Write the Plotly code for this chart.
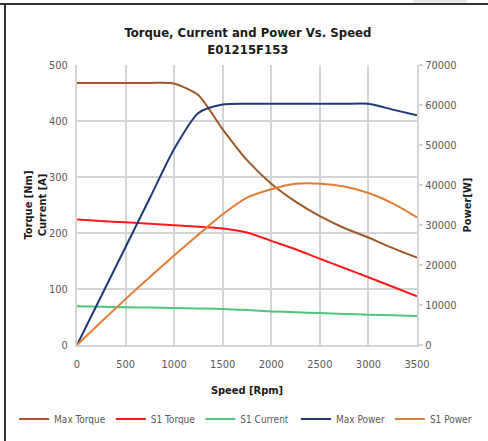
import plotly.graph_objects as go

speed = [0, 250, 500, 750, 1000, 1250, 1500, 1750, 2000, 2250, 2500, 2750, 3000, 3250, 3500]
max_torque = [468, 468, 468, 468, 467, 446, 385, 330, 288, 256, 230, 209, 192, 173, 156]
s1_torque = [224, 221.5, 219, 216.5, 214, 211, 208, 201, 186, 171, 154, 137.5, 121, 104, 87]
s1_current = [69, 68.3, 67.5, 66.8, 66, 65.3, 64.5, 62.5, 60, 58.5, 57, 55.5, 54, 53, 52]
max_power = [0, 12250, 24500, 36750, 49000, 58000, 60100, 60300, 60300, 60300, 60300, 60300, 60300, 58850, 57400]
s1_power = [0, 5800, 11470, 17000, 22400, 27620, 32670, 36840, 38950, 40300, 40320, 39600, 38000, 35390, 31890]

x_ticks = [0, 500, 1000, 1500, 2000, 2500, 3000, 3500]

FONT = "DejaVu Sans Condensed, Liberation Sans Narrow, Arial Narrow, Liberation Sans, sans-serif"
TICKC = "#595959"
GRID = "#d4d4d4"

fig = go.Figure()
series = [
    ("Max Torque", speed, max_torque, "#A0582A", "y", "legend", 0.6),
    ("S1 Torque", speed, s1_torque, "#FF1A1A", "y", "legend", 0.8),
    ("S1 Current", speed, s1_current, "#4CC77A", "y", "legend", 0.8),
    ("Max Power", speed, max_power, "#1F3A78", "y2", "legend2", 0.7),
    ("S1 Power", speed, s1_power, "#E57C35", "y2", "legend2", 0.8),
]
for name, xs, ys, col, ax, lg, sm in series:
    fig.add_trace(go.Scatter(x=xs, y=ys, name=name, mode="lines", yaxis=ax, legend=lg,
                             line=dict(color=col, width=2, shape="spline", smoothing=sm)))

leg_common = dict(orientation="h", yanchor="middle", y=-0.264, xanchor="left",
                  font=dict(size=10, color=TICKC), itemwidth=30, tracegroupgap=0,
                  bgcolor="rgba(0,0,0,0)")

fig.update_layout(
    width=488, height=441,
    margin=dict(l=77, r=71, t=65, b=96, autoexpand=False),
    paper_bgcolor="white", plot_bgcolor="white",
    font=dict(family=FONT, color=TICKC, size=11),
    title=dict(text="<b>Torque, Current and Power Vs. Speed<br>E01215F153</b>",
               x=0.508, xanchor="center", y=0.915, yanchor="middle",
               font=dict(family=FONT, size=13, color="#1a1a1a")),
    xaxis=dict(range=[0, 3500], tickvals=x_ticks, showgrid=True, gridcolor=GRID, gridwidth=2,
               showline=True, linecolor=GRID, linewidth=2, zeroline=False, automargin=False,
               ticks="outside", ticklen=8, tickcolor="rgba(0,0,0,0)",
               tickfont=dict(size=11, color=TICKC),
               title=dict(text="<b>Speed [Rpm]</b>", font=dict(size=11, color="#1a1a1a"), standoff=16)),
    yaxis=dict(range=[0, 500], dtick=100, showgrid=True, gridcolor=GRID, gridwidth=2,
               showline=True, linecolor=GRID, linewidth=2, zeroline=False, automargin=False,
               ticks="outside", ticklen=5, tickcolor="rgba(0,0,0,0)",
               tickfont=dict(size=11, color=TICKC),
               title=dict(text="<b>Torque [Nm]<br>Current [A]</b>", font=dict(size=11, color="#1a1a1a"), standoff=0)),
    yaxis2=dict(range=[0, 70000], dtick=10000, tickformat="d", overlaying="y", side="right", showgrid=False,
                showline=True, linecolor=GRID, linewidth=2, zeroline=False, automargin=False,
                ticks="outside", ticklen=4, tickcolor=GRID, tickwidth=2,
                tickfont=dict(size=11, color=TICKC),
                title=dict(text="<b>Power[W]</b>", font=dict(size=11, color="#1a1a1a"), standoff=8)),
    legend=dict(x=-0.185, **leg_common),
    legend2=dict(x=0.644, **leg_common),
    showlegend=True,
    shapes=[
        dict(type="rect", xref="paper", yref="paper", x0=0.988, x1=1.147, y0=1.232, y1=1.222,
             line=dict(width=0), fillcolor="#e6e6e6"),
        dict(type="line", xref="paper", yref="paper", x0=-0.2265, x1=1.21, y0=1.218, y1=1.218,
             line=dict(color="#333333", width=2)),
        dict(type="line", xref="paper", yref="paper", x0=-0.2118, x1=-0.2118, y0=1.218, y1=-0.35,
             line=dict(color="#333333", width=2)),
    ],
)

fig.write_html("out.html", post_script="document.body.style.margin='0';",
               config={"displayModeBar": False})
